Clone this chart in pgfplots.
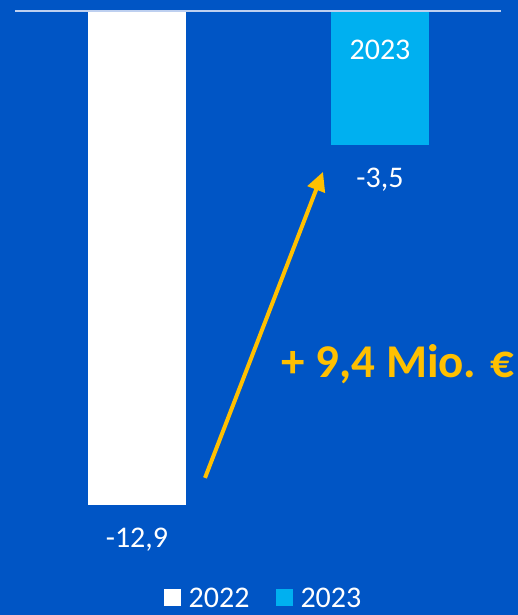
\documentclass[border=0pt]{standalone}
\usepackage{pgfplots}
\pgfplotsset{compat=1.18}
\usepackage{pgfplotstable}
\usetikzlibrary{arrows.meta}
\usepackage{fontspec}
\setmainfont{Carlito}
\definecolor{bg}{RGB}{0,85,197}
\definecolor{cyanbar}{RGB}{0,176,240}
\definecolor{gold}{RGB}{255,192,0}
\definecolor{topline}{RGB}{190,208,240}
\pgfplotstableread{
x y label
137 -12.9 -12,9
}\tablea
\pgfplotstableread{
x y label
380 -3.5 -3,5
}\tableb
\begin{document}
\begin{tikzpicture}
\fill[bg] (0,0) rectangle (518pt,615pt);
\begin{axis}[
  at={(0,0)}, anchor=south west,
  scale only axis, width=518pt, height=615pt,
  xmin=0, xmax=518, ymin=-15.77, ymax=0.287,
  hide axis, clip=false,
  legend style={at={(axis cs:263,-15.32)}, anchor=center, draw=none, fill=none,
    text=white, font=\fontsize{30}{36}\selectfont, inner sep=0pt,
    nodes={inner sep=1pt, text depth=0pt},
    /tikz/every even column/.append style={column sep=25pt}},
  legend columns=2,
  every node near coord/.append style={anchor=center, yshift=-35pt, text=white,
    font=\fontsize{30}{36}\selectfont},
]
\addplot[ybar, bar shift=0pt, bar width=98, fill=white, draw=none,
  nodes near coords, point meta=explicit symbolic,
  legend image code/.code={\fill[white] (0pt,-8pt) rectangle (17pt,9pt);\path (24pt,0pt);}]
  table[x=x, y=y, meta=label] {\tablea};
\addlegendentry{2022}
\addplot[ybar, bar shift=0pt, bar width=98, fill=cyanbar, draw=none,
  nodes near coords, point meta=explicit symbolic,
  legend image code/.code={\fill[cyanbar] (0pt,-8pt) rectangle (17pt,9pt);\path (24pt,0pt);}]
  table[x=x, y=y, meta=label] {\tableb};
\addlegendentry{2023}
\addplot[topline, line width=2pt, forget plot] coordinates {(15,0) (501,0)};
\addplot[gold, line width=4pt, -{Triangle[length=19pt, width=18pt]}, forget plot]
  coordinates {(205,-12.19) (323,-4.20)};
\node[text=white, font=\fontsize{30}{36}\selectfont] at (axis cs:380,-1.02) {2023};
\node[text=gold, font=\fontsize{47}{56}\selectfont\bfseries] at (axis cs:398,-9.22) {+ 9,4 Mio. €};
\end{axis}
\end{tikzpicture}
\end{document}
